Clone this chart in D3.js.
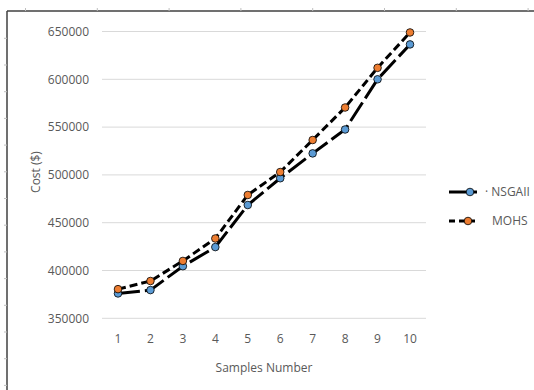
<!DOCTYPE html>
<html>
<head>
<meta charset="utf-8">
<script src="https://cdn.jsdelivr.net/npm/d3@7"></script>
<style>
  body { margin: 0; background: #fff; }
  text { font-family: "Open Sans", sans-serif; fill: #595959; }
</style>
</head>
<body>
<svg id="chart" width="534" height="390"></svg>
<script>
// data
const samples = ['1', '2', '3', '4', '5', '6', '7', '8', '9', '10'];
const nsgaii = [376000, 379500, 404500, 424500, 468500, 496500, 522500, 547500, 600000, 636500];
const mohs = [380500, 389000, 410000, 433500, 479000, 503000, 536500, 570500, 612000, 649000];
const yTicks = [350000, 400000, 450000, 500000, 550000, 600000, 650000];
const seriesNames = ['NSGAII', 'MOHS'];

const svg = d3.select('#chart');

// frame of the chart area (runs off right/bottom)
svg.append('line').attr('x1', 7).attr('x2', 534).attr('y1', 11).attr('y2', 11)
  .attr('stroke', '#404040').attr('stroke-width', 1.5);
svg.append('line').attr('x1', 7).attr('x2', 7).attr('y1', 11).attr('y2', 390)
  .attr('stroke', '#404040').attr('stroke-width', 1.5);
// little ticks outside the frame
d3.range(25.5, 534, 71.8).forEach(function (x) {
  svg.append('line').attr('x1', x).attr('x2', x).attr('y1', 8).attr('y2', 11)
    .attr('stroke', '#bfbfbf');
});
d3.range(38.3, 390, 26.7).forEach(function (y) {
  svg.append('line').attr('x1', 4).attr('x2', 7).attr('y1', y).attr('y2', y)
    .attr('stroke', '#bfbfbf');
});

// scales
const x = d3.scalePoint().domain(samples).range([118, 410]);
const y = d3.scaleLinear().domain([350000, 650000]).range([318.3, 31.5]);

// gridlines
svg.append('g').selectAll('line').data(yTicks).enter().append('line')
  .attr('x1', 102).attr('x2', 426)
  .attr('y1', d => y(d)).attr('y2', d => y(d))
  .attr('stroke', '#d9d9d9').attr('stroke-width', 1);

// y axis labels
svg.append('g').selectAll('text').data(yTicks).enter().append('text')
  .attr('x', 89).attr('y', d => y(d)).attr('dy', '0.35em')
  .attr('text-anchor', 'end').attr('font-size', 12)
  .text(d => d);

// x axis labels
svg.append('g').selectAll('text').data(samples).enter().append('text')
  .attr('x', d => x(d)).attr('y', 343)
  .attr('text-anchor', 'middle').attr('font-size', 12)
  .text(d => d);

// axis titles
svg.append('text').attr('x', 264).attr('y', 372).attr('text-anchor', 'middle')
  .attr('font-size', 12).text('Samples Number');
svg.append('text').attr('transform', 'translate(40,172) rotate(-90)')
  .attr('text-anchor', 'middle').attr('font-size', 12).text('Cost ($)');

// series
const series = [
  { name: seriesNames[0], values: nsgaii, dash: '22,5', fill: '#5b9bd5' },
  { name: seriesNames[1], values: mohs, dash: '8,4', fill: '#ed7d31' }
];
const line = d3.line().x((d, i) => x(samples[i])).y(d => y(d));

series.forEach(function (s) {
  svg.append('path').datum(s.values)
    .attr('d', line)
    .attr('fill', 'none').attr('stroke', '#000').attr('stroke-width', 3)
    .attr('stroke-dasharray', s.dash);
});
series.forEach(function (s) {
  svg.append('g').selectAll('circle').data(s.values).enter().append('circle')
    .attr('cx', (d, i) => x(samples[i])).attr('cy', d => y(d)).attr('r', 3.8)
    .attr('fill', s.fill).attr('stroke', '#000').attr('stroke-width', 0.8);
});

// legend
const legY = [192, 221];
series.forEach(function (s, i) {
  const g = svg.append('g');
  g.append('line').attr('x1', 449).attr('x2', 477).attr('y1', legY[i]).attr('y2', legY[i])
    .attr('stroke', '#000').attr('stroke-width', 3)
    .attr('stroke-dasharray', i === 0 ? null : '6,4');
  g.append('circle').attr('cx', i === 0 ? 470 : 468).attr('cy', legY[i]).attr('r', 3.8)
    .attr('fill', s.fill).attr('stroke', '#000').attr('stroke-width', 0.8);
  g.append('text').attr('x', i === 0 ? 485 : 492).attr('y', legY[i]).attr('dy', '0.35em')
    .attr('font-size', 12).text(i === 0 ? '\u00b7 ' + s.name : s.name);
});
</script>
</body>
</html>
